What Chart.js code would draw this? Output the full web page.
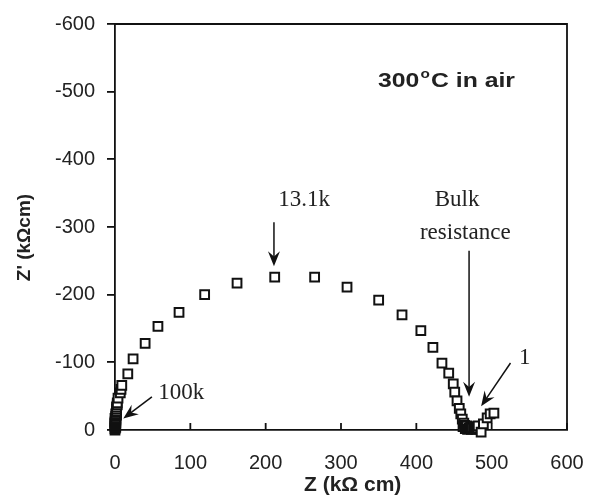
<!DOCTYPE html>
<html>
<head>
<meta charset="utf-8">
<script src="https://cdn.jsdelivr.net/npm/chart.js@4"></script>
<style>
  body { margin: 0; background: #fff; }
  #wrap { width: 590px; height: 500px; }
</style>
</head>
<body>
<div id="wrap"><canvas id="nyquist" width="590" height="500"></canvas></div>
<script>
// Impedance data, Z real (kOhm cm) and Z imaginary (kOhm cm)
const zReal = [0, 0, 1, 0, 1, 0, 0, 1, 0, 1, 1, 1, 0, 1, 1, 2, 1, 2, 2, 2, 2, 3, 3, 4, 7, 8, 9, 17,
  24, 40, 57, 85, 119, 162, 212, 265, 308, 350, 381, 406, 422, 434, 443,
  449, 451, 454, 457, 459, 461, 462, 463, 464, 465, 466, 467, 468, 470, 471, 472, 473, 474, 476,
  477, 478, 479, 481, 482, 486, 489, 494, 498, 503];
const zImag = [0, -2, -4, -5, -7, -9, -10, -11, -12, -13, -15, -16, -17, -18, -20, -22, -24, -26, -28, -31, -34, -37, -40, -47, -55, -60, -66, -83,
  -105, -128, -153, -174, -200, -217, -226, -226, -211, -192, -170, -147, -122, -99, -84,
  -68, -56, -43, -32, -24, -16, -5, -10, -7, -2, -4, -6, -1, -3, -2, -4, -1, -3, -2,
  -5, -4, -1, -3, -6, 3, -9, -18, -24, -25];

const xTicks = [0, 100, 200, 300, 400, 500, 600];
const yTicks = [-600, -500, -400, -300, -200, -100, 0];

// annotations in data units
const notes = [
  { text: '13.1k', x: 251, y: -340 },
  { text: 'Bulk', x: 454, y: -340 },
  { text: 'resistance', x: 465, y: -291 },
  { text: '1', x: 544, y: -106 },
  { text: '100k', x: 88, y: -55 }
];
const arrows = [
  { from: [211, -307], to: [211, -242] },
  { from: [470, -265], to: [470, -49] },
  { from: [525, -99], to: [486, -35] },
  { from: [49, -49], to: [11, -17] }
];

const points = zReal.map((v, i) => ({ x: v, y: zImag[i] }));

function drawArrow(ctx, x1, y1, x2, y2) {
  const ang = Math.atan2(y2 - y1, x2 - x1);
  const len = 15, half = 6;
  ctx.beginPath();
  ctx.moveTo(x1, y1);
  ctx.lineTo(x2 - Math.cos(ang) * 8, y2 - Math.sin(ang) * 8);
  ctx.stroke();
  ctx.save();
  ctx.translate(x2, y2);
  ctx.rotate(ang);
  ctx.beginPath();
  ctx.moveTo(0, 0);
  ctx.lineTo(-len, -half);
  ctx.lineTo(-len * 0.65, 0);
  ctx.lineTo(-len, half);
  ctx.closePath();
  ctx.fill();
  ctx.restore();
}

const framePlugin = {
  id: 'frame',
  afterDraw(chart) {
    const ctx = chart.ctx;
    const a = chart.chartArea;
    const xs = chart.scales.x, ys = chart.scales.y;
    ctx.save();
    ctx.strokeStyle = '#111';
    ctx.fillStyle = '#111';
    ctx.lineWidth = 1.8;
    // top and right frame
    ctx.beginPath();
    ctx.moveTo(a.left, a.top);
    ctx.lineTo(a.right, a.top);
    ctx.lineTo(a.right, a.bottom);
    ctx.stroke();
    // x ticks pointing inside
    xTicks.forEach(t => {
      const px = xs.getPixelForValue(t);
      ctx.beginPath();
      ctx.moveTo(px, a.bottom);
      ctx.lineTo(px, a.bottom - 7);
      ctx.stroke();
    });
    // arrows
    ctx.lineWidth = 1.5;
    arrows.forEach(ar => {
      drawArrow(ctx, xs.getPixelForValue(ar.from[0]), ys.getPixelForValue(ar.from[1]),
        xs.getPixelForValue(ar.to[0]), ys.getPixelForValue(ar.to[1]));
    });
    // labels
    ctx.fillStyle = '#222';
    ctx.font = '23px "Liberation Serif", "Times New Roman", serif';
    ctx.textAlign = 'center';
    ctx.textBaseline = 'middle';
    notes.forEach(n => {
      ctx.fillText(n.text, xs.getPixelForValue(n.x), ys.getPixelForValue(n.y));
    });
    // condition label, slightly widened like the source
    ctx.translate(xs.getPixelForValue(349), ys.getPixelForValue(-507));
    ctx.scale(1.18, 1);
    let tx = 0;
    ctx.textAlign = 'left';
    ctx.textBaseline = 'alphabetic';
    ctx.font = 'bold 21px "Liberation Sans", Arial, sans-serif';
    ctx.fillText('300', tx, 0);
    tx += ctx.measureText('300').width + 1;
    ctx.font = 'bold 13px "Liberation Sans", Arial, sans-serif';
    ctx.fillText('o', tx, -9);
    tx += ctx.measureText('o').width + 1;
    ctx.font = 'bold 21px "Liberation Sans", Arial, sans-serif';
    ctx.fillText('C in air', tx, 0);
    ctx.restore();
  }
};

const tickFont = { family: '"Liberation Sans", Arial, sans-serif', size: 20 };

new Chart(document.getElementById('nyquist'), {
  type: 'scatter',
  data: {
    datasets: [{
      data: points,
      pointStyle: 'rect',
      pointRadius: 6.2,
      borderWidth: 2,
      borderColor: '#111',
      backgroundColor: '#fff',
      clip: false
    }]
  },
  options: {
    responsive: false,
    animation: false,
    events: [],
    layout: { padding: { top: 23, right: 23, left: 0, bottom: 0 } },
    plugins: { legend: { display: false }, tooltip: { enabled: false } },
    scales: {
      x: {
        type: 'linear',
        min: 0, max: 600,
        afterFit: s => { s.height = 70; s.paddingRight = 0; s.paddingLeft = 0; },
        afterBuildTicks: s => { s.ticks = xTicks.map(v => ({ value: v })); },
        grid: { drawOnChartArea: false, drawTicks: false },
        border: { display: true, color: '#111', width: 1.8 },
        ticks: { font: tickFont, color: '#222', padding: 21 },
        title: {
          display: true, text: '    Z (kΩ cm)', color: '#222', padding: { top: 0, bottom: 2 },
          font: { family: '"Liberation Sans", Arial, sans-serif', size: 21, weight: 'bold' }
        }
      },
      y: {
        type: 'linear',
        reverse: true,
        min: -600, max: 0,
        afterFit: s => { s.width = 115; },
        afterBuildTicks: s => { s.ticks = yTicks.map(v => ({ value: v })); },
        grid: { drawOnChartArea: false, drawTicks: true, tickLength: 8, color: '#111', lineWidth: 1.8 },
        border: { display: true, color: '#111', width: 1.8 },
        ticks: { font: tickFont, color: '#222', padding: 12 },
        title: {
          display: true, text: "Z' (kΩcm)    ", color: '#222', padding: { top: 13, bottom: 0 },
          font: { family: '"Liberation Sans", Arial, sans-serif', size: 19, weight: 'bold' }
        }
      }
    }
  },
  plugins: [framePlugin]
});
</script>
</body>
</html>
